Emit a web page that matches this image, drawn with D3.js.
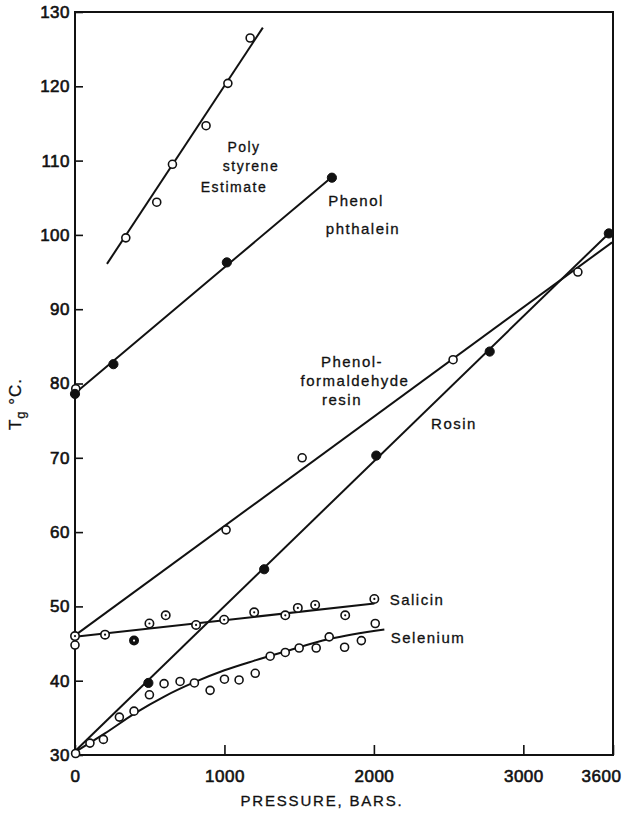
<!DOCTYPE html>
<html><head><meta charset="utf-8">
<script src="https://cdn.jsdelivr.net/npm/d3@7"></script>
<style>
body{margin:0;background:#fff}
svg{display:block;background:#fff}
text{font-family:"Liberation Sans",Arial,sans-serif;fill:#111}
</style>
</head><body>
<svg id="chart" width="628" height="814"></svg>
<script>
// ---- data (pressure in bars, Tg in °C) ----
const xTickValues = [0, 1000, 2000, 3000, 3600];
const yTickValues = [30, 40, 50, 60, 70, 80, 90, 100, 110, 120, 130];

const polyP = [340, 547, 652, 877, 1023, 1172];
const polyT = [99.6, 104.4, 109.5, 114.7, 120.4, 126.5];
const polyFitP = [214, 1257];
const polyFitT = [96.1, 127.9];

const phthP = [0, 257, 1016, 1719];
const phthT = [78.6, 82.6, 96.3, 107.7];
const phthOpenP = [5];
const phthOpenT = [79.3];
const phthFitP = [0, 1719];
const phthFitT = [78.7, 107.8];

const resinP = [0, 1011, 1520, 2530, 3365];
const resinT = [44.8, 60.3, 70.0, 83.2, 95.0];
const resinFitP = [0, 3594];
const resinFitT = [46.1, 99.0];

const rosinP = [491, 1266, 2016, 2775, 3572];
const rosinT = [39.7, 55.0, 70.3, 84.3, 100.2];
const rosinFitP = [0, 3572];
const rosinFitT = [30.5, 100.2];

const salicinP = [0, 201, 395, 498, 607, 810, 998, 1199, 1407, 1491, 1607, 1808, 2003];
const salicinT = [46.0, 46.2, 45.4, 47.7, 48.8, 47.5, 48.2, 49.2, 48.8, 49.8, 50.2, 48.8, 51.0];
const salicinDark = [false, false, true, false, false, false, false, false, false, false, false, false, false];
const salicinFitP = [0, 2003];
const salicinFitT = [45.9, 50.4];

const seleniumP = [4, 100, 190, 297, 395, 498, 596, 703, 799, 904, 1000, 1098, 1206, 1306, 1407, 1500, 1614, 1701, 1804, 1916, 2009];
const seleniumT = [30.2, 31.6, 32.1, 35.1, 35.9, 38.1, 39.6, 39.9, 39.7, 38.7, 40.2, 40.1, 41.0, 43.3, 43.8, 44.4, 44.4, 45.9, 44.5, 45.4, 47.7];
const seleniumFitP = [0, 200, 400, 600, 800, 1000, 1200, 1400, 1700, 2070];
const seleniumFitT = [30.4, 32.9, 35.6, 37.9, 39.8, 41.4, 42.7, 43.9, 45.6, 46.9];

// ---- chart ----
const svg = d3.select("#chart");
const x = d3.scaleLinear().domain([0, 3600]).range([75, 613]);
const y = d3.scaleLinear().domain([30, 130]).range([755, 12]);
const ink = "#111";
const zip = (a, b) => a.map((v, i) => [v, b[i]]);
const line = d3.line().x(d => x(d[0])).y(d => y(d[1]));

// frame
svg.append("rect").attr("x", x(0)).attr("y", y(130))
  .attr("width", x(3600) - x(0)).attr("height", y(30) - y(130))
  .attr("fill", "none").attr("stroke", ink).attr("stroke-width", 2);

// y axis
const gy = svg.append("g").attr("transform", `translate(${x(0)},0)`)
  .call(d3.axisLeft(y).tickValues(yTickValues).tickSizeInner(-8).tickSizeOuter(0).tickPadding(5).tickFormat(d3.format("d")));
gy.select(".domain").remove();
gy.selectAll("line").attr("stroke", ink).attr("stroke-width", 1.6);
gy.selectAll("text").attr("font-size", 17).attr("letter-spacing", 0.5).attr("fill", ink)
  .attr("stroke", ink).attr("stroke-width", 0.6)
  .attr("font-family", '"Liberation Sans",Arial,sans-serif');

// x axis
const gx = svg.append("g").attr("transform", `translate(0,${y(30)})`)
  .call(d3.axisBottom(x).tickValues(xTickValues).tickSizeInner(-10).tickSizeOuter(0).tickPadding(15).tickFormat(d3.format("d")));
gx.select(".domain").remove();
gx.selectAll("line").attr("stroke", ink).attr("stroke-width", 1.6);
gx.selectAll("text").attr("font-size", 17).attr("letter-spacing", 0.5).attr("fill", ink)
  .attr("stroke", ink).attr("stroke-width", 0.6)
  .attr("font-family", '"Liberation Sans",Arial,sans-serif')
  .attr("dx", d => d === 3600 ? -12 : 0);

// axis titles
svg.append("text").attr("x", 322).attr("y", 806).attr("text-anchor", "middle")
  .attr("font-size", 15).attr("letter-spacing", 1.8).attr("stroke", ink).attr("stroke-width", 0.3)
  .text("PRESSURE, BARS.");
const yl = svg.append("text").attr("transform", "translate(21,404) rotate(-90)")
  .attr("text-anchor", "middle").attr("font-size", 17).attr("letter-spacing", 1)
  .attr("stroke", ink).attr("stroke-width", 0.3);
yl.append("tspan").text("T");
yl.append("tspan").attr("font-size", 13).attr("dy", 4).text("g");
yl.append("tspan").attr("dy", -4).text(" °C.");

// fit lines
const fits = [
  zip(polyFitP, polyFitT), zip(phthFitP, phthFitT), zip(resinFitP, resinFitT),
  zip(rosinFitP, rosinFitT), zip(salicinFitP, salicinFitT)
];
svg.append("g").selectAll("path").data(fits).join("path")
  .attr("d", line).attr("fill", "none").attr("stroke", ink).attr("stroke-width", 2);
svg.append("path").datum(zip(seleniumFitP, seleniumFitT))
  .attr("d", d3.line().x(d => x(d[0])).y(d => y(d[1])).curve(d3.curveMonotoneX))
  .attr("fill", "none").attr("stroke", ink).attr("stroke-width", 2);

// markers
function openPts(P, T) {
  svg.append("g").selectAll("circle").data(zip(P, T)).join("circle")
    .attr("cx", d => x(d[0])).attr("cy", d => y(d[1])).attr("r", 4)
    .attr("fill", "#fff").attr("stroke", ink).attr("stroke-width", 1.6);
}
function filledPts(P, T) {
  svg.append("g").selectAll("circle").data(zip(P, T)).join("circle")
    .attr("cx", d => x(d[0])).attr("cy", d => y(d[1])).attr("r", 4.6)
    .attr("fill", ink).attr("stroke", ink).attr("stroke-width", 1);
}
openPts(polyP, polyT);
openPts(phthOpenP, phthOpenT);
filledPts(phthP, phthT);
openPts(resinP, resinT);
filledPts(rosinP, rosinT);
openPts(seleniumP, seleniumT);

const sal = svg.append("g").selectAll("g").data(salicinP.map((p, i) => [p, salicinT[i], salicinDark[i]])).join("g")
  .attr("transform", d => `translate(${x(d[0])},${y(d[1])})`);
sal.append("circle").attr("r", 4.2).attr("fill", d => d[2] ? ink : "#fff")
  .attr("stroke", ink).attr("stroke-width", 1.6);
sal.append("circle").attr("r", 1.1).attr("fill", d => d[2] ? "#fff" : ink);

// series labels
const labels = [
  {t: "Poly", x: 244, y: 152, s: 14},
  {t: "styrene", x: 251, y: 171, s: 14},
  {t: "Estimate", x: 234, y: 192, s: 14},
  {t: "Phenol", x: 356, y: 206, s: 15},
  {t: "phthalein", x: 363, y: 234, s: 15},
  {t: "Phenol-", x: 352, y: 367, s: 15},
  {t: "formaldehyde", x: 355, y: 386, s: 15},
  {t: "resin", x: 342, y: 405, s: 15},
  {t: "Rosin", x: 454, y: 429, s: 15},
  {t: "Salicin", x: 417, y: 605, s: 15},
  {t: "Selenium", x: 428, y: 643, s: 15}
];
svg.append("g").selectAll("text").data(labels).join("text")
  .attr("x", d => d.x).attr("y", d => d.y).attr("text-anchor", "middle")
  .attr("font-size", d => d.s).attr("letter-spacing", 1.5)
  .attr("stroke", ink).attr("stroke-width", 0.3).text(d => d.t);
</script>
</body></html>
